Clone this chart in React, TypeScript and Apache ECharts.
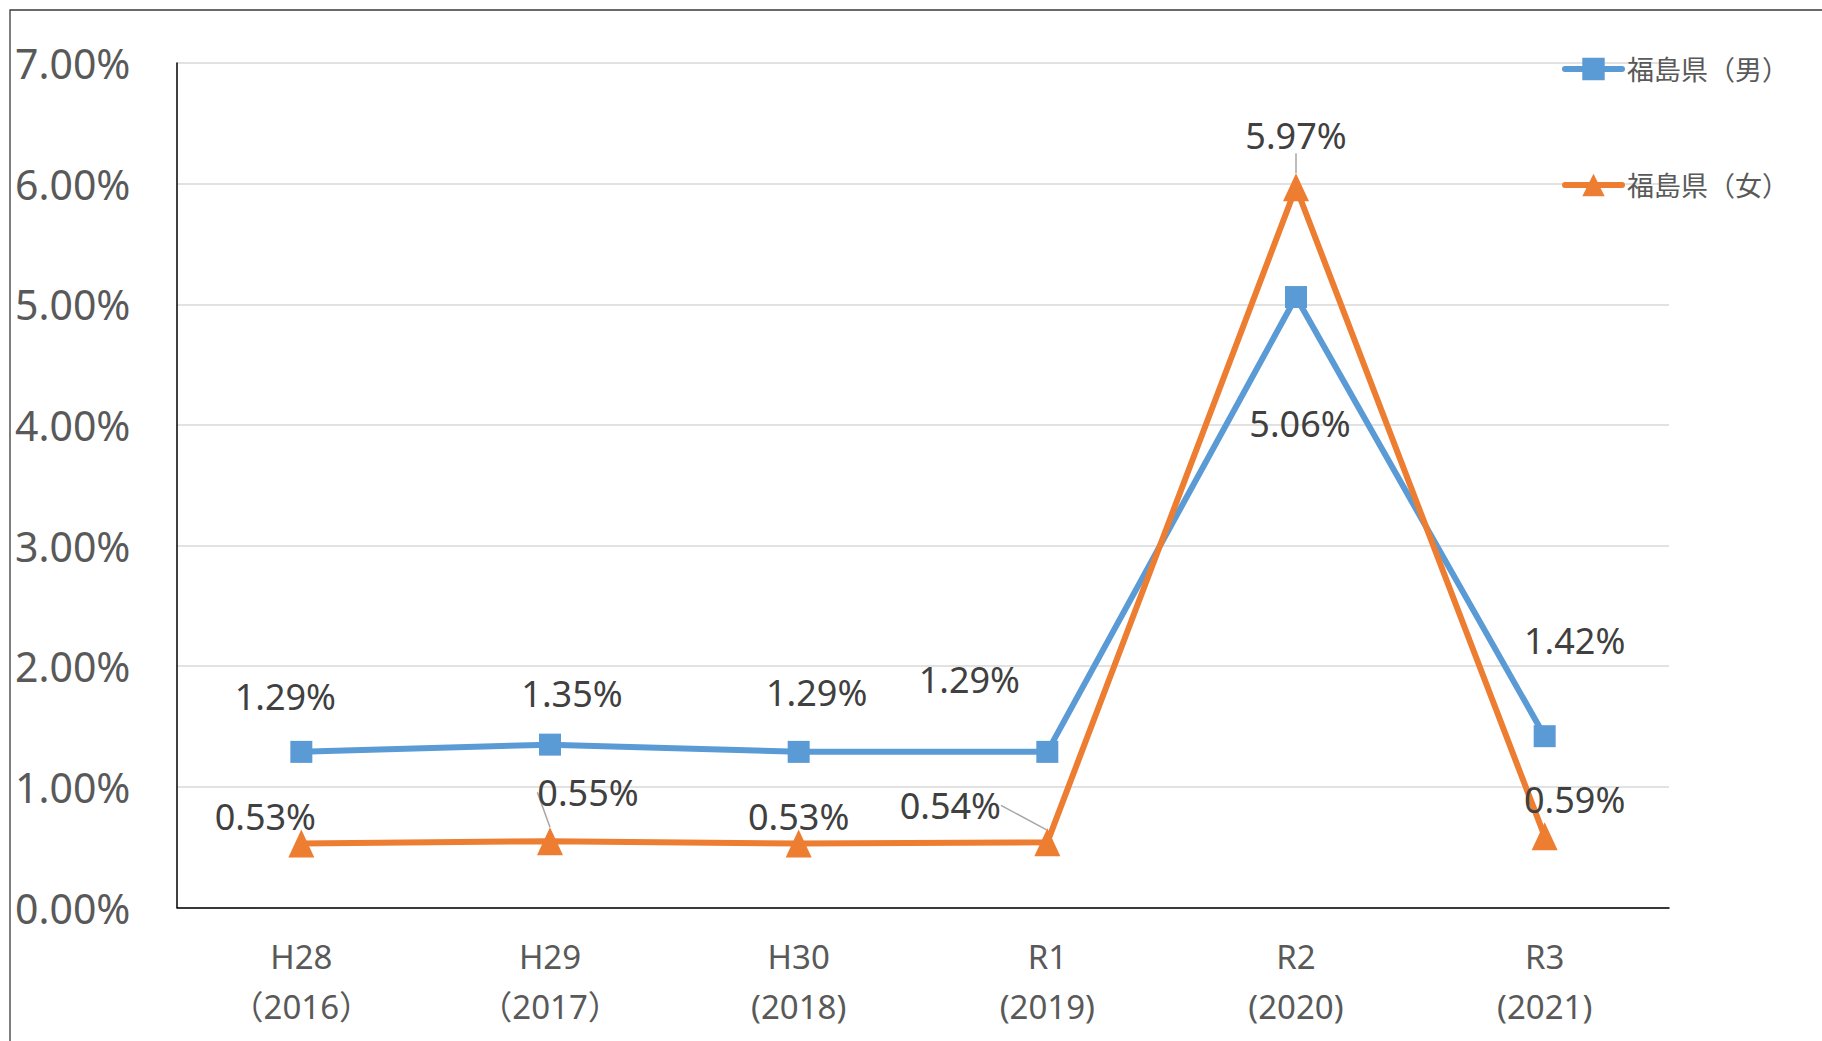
import { useEffect, useRef } from "react";
import * as echarts from "echarts";

const categories = ["H28\n（2016）", "H29\n（2017）", "H30\n(2018)", "R1\n(2019)", "R2\n(2020)", "R3\n(2021)"];
const maleName = "福島県（男）";
const femaleName = "福島県（女）";
const maleValues = [1.29, 1.35, 1.29, 1.29, 5.06, 1.42];
const femaleValues = [0.53, 0.55, 0.53, 0.54, 5.97, 0.59];
const yMin = 0;
const yMax = 7;
const yStep = 1;
const femaleLeaderLines = [false, true, false, true, true, false];

// label placement relative to each point (pixels)
const maleLabelOffsets = [[-16, -55], [22, -51], [18, -59], [-78, -72], [4, 126], [30, -96]];
const femaleLabelOffsets = [[-36, -27], [38, -49], [0, -27], [-97, -37], [0, -52], [30, -37]];

const FONT = "'Noto Sans', 'Noto Sans CJK JP', sans-serif";
const BLUE = "#5B9BD5";
const ORANGE = "#ED7D31";

const fmt = (v: number) => v.toFixed(2) + "%";

export default function App() {
  const ref = useRef<HTMLDivElement>(null);
  useEffect(() => {
    if (!ref.current) return;
    const chart = echarts.init(ref.current, undefined, { renderer: "svg" });
    const labelBase = {
      show: true,
      position: "inside",
      fontSize: 36,
      color: "#404040",
      fontFamily: FONT,
      formatter: (p: any) => fmt(p.value),
    };
    chart.setOption({
      animation: false,
      backgroundColor: "#ffffff",
      textStyle: { fontFamily: FONT },
      graphic: [
        {
          type: "rect",
          silent: true,
          z: -1,
          shape: { x: 10, y: 10, width: 1900, height: 1100 },
          style: { fill: "none", stroke: "#3a3a3a", lineWidth: 1.3 },
        },
      ],
      grid: { left: 177, right: 153, top: 63, bottom: 133.5, containLabel: false },
      legend: {
        orient: "vertical",
        left: 1557,
        top: 50,
        itemWidth: 57,
        itemHeight: 28,
        itemGap: 88,
        data: [maleName, femaleName],
        lineStyle: { width: 6, cap: "round" },
        textStyle: { fontSize: 27, color: "#595959", fontFamily: FONT, lineHeight: 28 },
      },
      xAxis: {
        type: "category",
        data: categories,
        boundaryGap: true,
        axisTick: { show: false },
        axisLine: { show: true, lineStyle: { color: "#000000", width: 1.5 } },
        axisLabel: { fontSize: 33, color: "#595959", lineHeight: 50, margin: 24, fontFamily: FONT },
      },
      yAxis: {
        type: "value",
        min: yMin,
        max: yMax,
        interval: yStep,
        axisLine: { show: true, lineStyle: { color: "#000000", width: 1.5 } },
        axisTick: { show: false },
        splitLine: { show: true, lineStyle: { color: "#D9D9D9", width: 1.5 } },
        axisLabel: {
          fontSize: 41,
          color: "#595959",
          align: "left",
          margin: 162,
          fontFamily: FONT,
          formatter: (v: number) => fmt(v),
        },
      },
      series: [
        {
          name: maleName,
          type: "line",
          data: maleValues,
          symbol: "rect",
          symbolSize: 22,
          color: BLUE,
          lineStyle: { color: BLUE, width: 6 },
          itemStyle: { color: BLUE },
          label: labelBase,
          labelLayout: (p: any) => ({ dx: maleLabelOffsets[p.dataIndex][0], dy: maleLabelOffsets[p.dataIndex][1] }),
          z: 2,
        },
        {
          name: femaleName,
          type: "line",
          data: femaleValues.map((v, i) => ({
            value: v,
            labelLine: { show: femaleLeaderLines[i], lineStyle: { color: "#A6A6A6", width: 1.5 } },
          })),
          symbol: "triangle",
          symbolSize: [26, 28],
          color: ORANGE,
          lineStyle: { color: ORANGE, width: 6 },
          itemStyle: { color: ORANGE },
          label: labelBase,
          labelLayout: (p: any) => ({ dx: femaleLabelOffsets[p.dataIndex][0], dy: femaleLabelOffsets[p.dataIndex][1] }),
          z: 3,
        },
      ],
    });
    return () => chart.dispose();
  }, []);
  return (
    <div
      ref={ref}
      style={{ position: "fixed", left: 0, top: 0, width: 1822, height: 1041, background: "#fff" }}
    />
  );
}
